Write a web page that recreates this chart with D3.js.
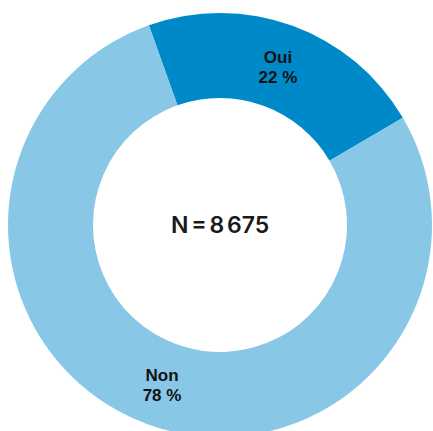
<!DOCTYPE html>
<html><head><meta charset="utf-8">
<script src="https://cdn.jsdelivr.net/npm/d3@7"></script>
<style>body{margin:0;background:#fff}svg{display:block}</style>
</head><body>
<script>
const categories = ["Oui", "Non"];
const values = [22, 78];
const labels = ["22 %", "78 %"];
const colors = ["#0089C9", "#88C7E6"];
const centerText = "N = 8 675";

const W = 433, H = 431, cx = 220, cy = 225, rOuter = 212, rInner = 127;
const svg = d3.select("body").append("svg").attr("width", W).attr("height", H);
const g = svg.append("g").attr("transform", `translate(${cx},${cy})`);

const startA = -19.6 * Math.PI / 180;
const pie = d3.pie().sort(null).value(d => d).startAngle(startA).endAngle(startA + 2 * Math.PI);
const arcs = pie(values);
const arc = d3.arc().innerRadius(rInner).outerRadius(rOuter);

g.selectAll("path").data(arcs).join("path")
  .attr("d", arc).attr("fill", (d, i) => colors[i]);

const lab = g.selectAll("text.lab").data(arcs).join("text").attr("class", "lab")
  .attr("transform", d => { const c = arc.centroid(d); return `translate(${c[0]},${c[1]})`; })
  .attr("text-anchor", "middle")
  .style("font-family", "'Liberation Sans', Arial, sans-serif").style("font-weight", 700).style("font-size", "17px")
  .attr("fill", "#111");
lab.append("tspan").attr("x", 0).attr("y", -3).text((d, i) => categories[i]);
lab.append("tspan").attr("x", 0).attr("y", 17).text((d, i) => labels[i]);

g.append("text").attr("text-anchor", "middle").attr("x", 0).attr("y", 8)
  .style("font-family", "Inter, sans-serif").style("font-weight", 600).style("font-size", "23px")
  .style("word-spacing", "-3px")
  .attr("fill", "#1a1a1a").text(centerText);
</script>
</body></html>
